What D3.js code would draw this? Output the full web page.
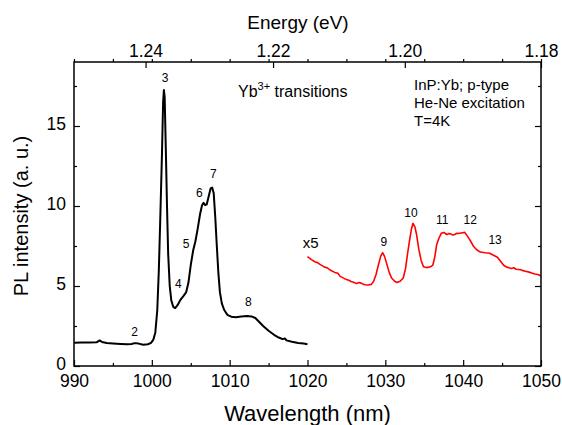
<!DOCTYPE html>
<html>
<head>
<meta charset="utf-8">
<script src="https://cdn.jsdelivr.net/npm/d3@7/dist/d3.min.js"></script>
<style>
  body { margin: 0; background: #fff; }
  text { font-family: "Liberation Sans", Arial, sans-serif; fill: #000; }
</style>
</head>
<body>
<script>
// black spectrum (as measured)
const blackWl = [990.0, 991.0, 992.0, 992.9, 993.3, 993.6, 994.2, 995.0, 996.0, 996.8, 997.4, 997.8, 998.3, 998.9, 999.5, 999.9,
  1000.2, 1000.45, 1000.7, 1000.9, 1001.1, 1001.3, 1001.45, 1001.55, 1001.65, 1001.8, 1001.95, 1002.1, 1002.3, 1002.5, 1002.75,
  1003.0, 1003.3, 1003.7, 1004.1, 1004.4, 1004.7, 1005.0, 1005.3, 1005.6, 1005.9, 1006.2, 1006.45, 1006.65, 1006.85, 1007.05,
  1007.3, 1007.55, 1007.75, 1007.95, 1008.15, 1008.35, 1008.55, 1008.75, 1009.0, 1009.3, 1009.7, 1010.2, 1010.8, 1011.5, 1012.2,
  1012.8, 1013.3, 1013.8, 1014.3, 1015.0, 1015.7, 1016.3, 1016.8, 1017.1, 1017.3, 1018.0, 1018.8, 1019.5, 1020.0];
const blackInt = [1.46, 1.47, 1.47, 1.48, 1.6, 1.5, 1.44, 1.41, 1.38, 1.36, 1.38, 1.43, 1.40, 1.33, 1.36, 1.45,
  1.65, 2.1, 3.5, 6.0, 9.5, 13.2, 16.5, 17.25, 16.8, 13.5, 10.0, 7.0, 5.0, 4.1, 3.7,
  3.62, 3.8, 4.15, 4.4, 4.6, 5.2, 6.3, 7.2, 7.8, 8.6, 9.5, 10.05, 10.2, 10.05, 10.1,
  10.6, 11.1, 11.15, 10.8, 9.3, 7.5, 5.8, 4.6, 3.9, 3.5, 3.2, 3.08, 3.05, 3.1, 3.13,
  3.1, 3.0, 2.75, 2.5, 2.2, 1.95, 1.78, 1.68, 1.72, 1.6, 1.52, 1.44, 1.4, 1.36];

// red spectrum (x5)
const redWl = [1020.0, 1020.5, 1021.0, 1021.3, 1021.6, 1022.2, 1022.6, 1022.9, 1023.5, 1023.9, 1024.2, 1025.0, 1025.3, 1025.6,
  1026.0, 1026.3, 1026.6, 1026.9, 1027.2, 1027.4, 1027.8,
  1028.2, 1028.5, 1028.8, 1029.1, 1029.4, 1029.65, 1029.9, 1030.2, 1030.5, 1030.8, 1031.2, 1031.5, 1031.9, 1032.3, 1032.6,
  1032.85, 1033.1, 1033.35, 1033.55, 1033.8, 1034.0, 1034.3, 1034.6, 1034.9, 1035.3, 1035.8, 1036.1, 1036.35, 1036.6, 1036.9,
  1037.2, 1037.5, 1037.9, 1038.2, 1038.4, 1038.7, 1038.9, 1039.2, 1039.4, 1039.9, 1040.2, 1040.5, 1040.9, 1041.3, 1041.7,
  1042.2, 1042.8, 1043.4, 1043.9, 1044.4, 1044.8, 1045.2, 1045.6, 1046.2, 1046.5, 1046.8, 1047.4, 1047.7, 1048.0, 1048.6,
  1048.9, 1049.2, 1049.6, 1050.0];
const redInt = [6.83, 6.65, 6.5, 6.46, 6.35, 6.18, 6.12, 6.0, 5.85, 5.8, 5.6, 5.4, 5.36, 5.28,
  5.22, 5.15, 5.22, 5.18, 5.1, 5.08, 5.06,
  5.1, 5.3, 5.7, 6.3, 6.85, 7.08, 6.85, 6.35, 5.85, 5.5, 5.3, 5.22, 5.3, 5.5, 6.1,
  7.0, 7.8, 8.55, 8.92, 8.7, 8.25, 7.3, 6.6, 6.2, 6.15, 6.2, 6.3, 6.8, 7.6, 8.0,
  8.3, 8.35, 8.22, 8.28, 8.25, 8.18, 8.22, 8.3, 8.28, 8.33, 8.35, 8.15, 7.85, 7.5, 7.28,
  7.12, 7.08, 7.05, 6.92, 6.8, 6.55, 6.3, 6.18, 6.1, 6.14, 6.05, 6.02, 5.96, 5.92, 5.85,
  5.8, 5.75, 5.72, 5.62];

// peak labels
const peakNames = ['2', '3', '4', '5', '6', '7', '8', 'x5', '9', '10', '11', '12', '13'];
const peakWl = [997.8, 1001.7, 1003.4, 1004.4, 1006.1, 1007.9, 1012.4, 1020.4, 1029.8, 1033.3, 1037.3, 1040.9, 1044.1];
const peakInt = [1.88, 17.75, 4.87, 7.4, 10.56, 11.72, 3.72, 7.4, 7.5, 9.31, 8.87, 8.87, 7.62];

const wlTicks = [990, 1000, 1010, 1020, 1030, 1040, 1050];
const wlMinor = [995, 1005, 1015, 1025, 1035, 1045];
const intTicks = [0, 5, 10, 15];
const intMinor = [2.5, 7.5, 12.5, 17.5];
const energyTicks = [1.24, 1.22, 1.20, 1.18];
const infoLines = ['InP:Yb; p-type', 'He-Ne excitation', 'T=4K'];

const hc = 1239.0;
const width = 562, height = 425;
const m = { left: 74, right: 541, top: 62, bottom: 366 };

const svg = d3.select('body').append('svg')
  .attr('width', width)
  .attr('height', height);

const x = d3.scaleLinear().domain([990, 1050]).range([m.left, m.right]);
const y = d3.scaleLinear().domain([0, 19]).range([m.bottom, m.top]);

const line = d3.line().x(d => x(d[0])).y(d => y(d[1]));

svg.append('path')
  .datum(blackWl.map((w, i) => [w, blackInt[i]]))
  .attr('d', line)
  .attr('fill', 'none')
  .attr('stroke', '#000')
  .attr('stroke-width', 2)
  .attr('stroke-linejoin', 'round');

svg.append('path')
  .datum(redWl.map((w, i) => [w, redInt[i]]))
  .attr('d', line)
  .attr('fill', 'none')
  .attr('stroke', '#f00')
  .attr('stroke-width', 1.6)
  .attr('stroke-linejoin', 'round');

// axes
function style(g) {
  g.select('.domain').remove();
  g.selectAll('line').attr('stroke', '#000').attr('stroke-width', 1.2);
  g.selectAll('text').attr('font-size', 17.5).attr('fill', '#000')
    .attr('font-family', '"Liberation Sans", Arial, sans-serif');
}

svg.append('g').attr('transform', `translate(0,${m.bottom})`)
  .call(d3.axisBottom(x).tickValues(wlTicks).tickSizeInner(-6).tickSizeOuter(0).tickPadding(9).tickFormat(d3.format('d')))
  .call(style);
svg.append('g').attr('transform', `translate(0,${m.bottom})`)
  .call(d3.axisBottom(x).tickValues(wlMinor).tickSize(-3).tickFormat(''))
  .call(style);
svg.append('g').attr('transform', `translate(0,${m.top})`)
  .call(d3.axisTop(x).tickValues(wlTicks.concat(wlMinor)).tickSize(3).tickFormat(''))
  .call(style);
svg.append('g').attr('transform', `translate(0,${m.top})`)
  .call(d3.axisTop(x).tickValues(energyTicks.map(e => hc / e)).tickSizeInner(-6).tickSizeOuter(0).tickPadding(5)
    .tickFormat(d => (hc / d).toFixed(2)))
  .call(style);

svg.append('g').attr('transform', `translate(${m.left},0)`)
  .call(d3.axisLeft(y).tickValues(intTicks).tickSizeInner(-6).tickSizeOuter(0).tickPadding(8))
  .call(style)
  .call(g => g.selectAll('text').attr('dy', '0.22em'));
svg.append('g').attr('transform', `translate(${m.left},0)`)
  .call(d3.axisLeft(y).tickValues(intMinor).tickSize(-3).tickFormat(''))
  .call(style);
svg.append('g').attr('transform', `translate(${m.right},0)`)
  .call(d3.axisRight(y).tickValues(intTicks).tickSize(-6).tickFormat(''))
  .call(style);
svg.append('g').attr('transform', `translate(${m.right},0)`)
  .call(d3.axisRight(y).tickValues(intMinor).tickSize(-3).tickFormat(''))
  .call(style);

svg.append('rect')
  .attr('x', m.left).attr('y', m.top)
  .attr('width', m.right - m.left).attr('height', m.bottom - m.top)
  .attr('fill', 'none').attr('stroke', '#000').attr('stroke-width', 1.5);

// titles
svg.append('text').attr('x', (m.left + m.right) / 2).attr('y', 421)
  .attr('text-anchor', 'middle').attr('font-size', 22).text('Wavelength (nm)');
svg.append('text').attr('x', 298).attr('y', 29)
  .attr('text-anchor', 'middle').attr('font-size', 19).text('Energy (eV)');
svg.append('text').attr('transform', 'translate(28,216) rotate(-90)')
  .attr('text-anchor', 'middle').attr('font-size', 20).text('PL intensity (a. u.)');

// peak labels
svg.append('g').selectAll('text')
  .data(peakNames)
  .enter()
  .append('text')
  .attr('x', (d, i) => x(peakWl[i]))
  .attr('y', (d, i) => y(peakInt[i]))
  .attr('text-anchor', 'middle')
  .attr('font-size', d => d === 'x5' ? 15 : 12)
  .text(d => d);

// annotations
const yb = svg.append('text').attr('x', 238).attr('y', 97).attr('font-size', 16);
yb.append('tspan').text('Yb');
yb.append('tspan').attr('dy', -7).attr('font-size', 11).text('3+');
yb.append('tspan').attr('dy', 7).text(' transitions');

svg.append('g').selectAll('text')
  .data(infoLines)
  .enter()
  .append('text')
  .attr('x', 414)
  .attr('y', (d, i) => 90 + i * 18)
  .attr('font-size', 15)
  .text(d => d);
</script>
</body>
</html>
